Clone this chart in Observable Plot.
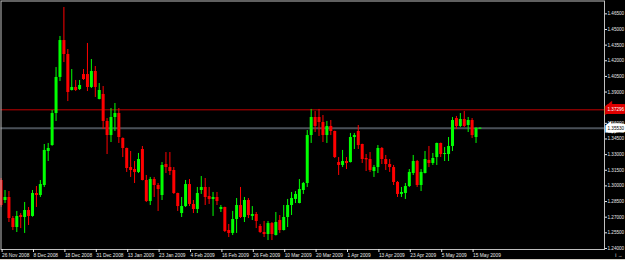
<!DOCTYPE html>
<html><head><meta charset="utf-8">
<script src="https://cdn.jsdelivr.net/npm/d3@7"></script>
<script src="https://cdn.jsdelivr.net/npm/@observablehq/plot@0.6"></script>
<style>
html,body{margin:0;padding:0;background:#000;overflow:hidden;}
#chart{width:625px;height:259px;border-bottom:1px solid #d4d0c8;}
svg{display:block;}
</style></head><body><div id="chart"></div>
<script>
const opens=[1.3052,1.2860,1.2889,1.2687,1.2601,1.2716,1.2697,1.2764,1.2707,1.2927,
 1.2908,1.3004,1.3330,1.3387,1.3694,1.4040,1.4394,1.4260,1.3915,1.3944,
 1.3924,1.4068,1.4068,1.3944,1.4097,1.3829,1.3877,1.3618,1.3483,1.3656,
 1.3694,1.3455,1.3359,1.3176,1.3157,1.3129,1.3349,1.3052,1.2850,1.3061,
 1.3004,1.2908,1.3205,1.3176,1.3148,1.2927,1.2735,1.2802,1.3013,1.2822,
 1.2774,1.2956,1.2985,1.2898,1.2870,1.2889,1.2774,1.2793,1.2572,1.2544,
 1.2678,1.2812,1.2697,1.2860,1.2707,1.2726,1.2611,1.2553,1.2534,1.2639,
 1.2524,1.2668,1.2572,1.2697,1.2812,1.2870,1.2831,1.2956,1.3023,1.3483,
 1.3656,1.3656,1.3608,1.3483,1.3570,1.3522,1.3224,1.3196,1.3234,1.3224,
 1.3464,1.3522,1.3397,1.3263,1.3253,1.3138,1.3176,1.3359,1.3253,1.3205,
 1.3176,1.3033,1.2918,1.2927,1.2994,1.3119,1.3234,1.3004,1.3119,1.3244,
 1.3215,1.3272,1.3407,1.3301,1.3301,1.3378,1.3646,1.3570,1.3637,1.3579,
 1.3627,1.3464,1.3544];
const highs=[1.3071,1.2956,1.2946,1.2707,1.2755,1.2735,1.2841,1.2793,1.2956,1.2994,
 1.3052,1.3397,1.3407,1.3723,1.4135,1.4433,1.4711,1.4308,1.4116,1.4011,
 1.4011,1.4116,1.4366,1.4212,1.4145,1.3982,1.3953,1.3646,1.3742,1.3790,
 1.3742,1.3460,1.3362,1.3330,1.3234,1.3311,1.3378,1.3100,1.3081,1.3081,
 1.3023,1.3224,1.3320,1.3320,1.3176,1.2930,1.2889,1.3052,1.3061,1.2860,
 1.2985,1.3090,1.3071,1.2985,1.2937,1.2937,1.2812,1.2796,1.2630,1.2755,
 1.2879,1.2985,1.2889,1.2879,1.2802,1.2745,1.2630,1.2659,1.2659,1.2649,
 1.2745,1.2716,1.2812,1.2870,1.2937,1.2946,1.3061,1.3033,1.3531,1.3733,
 1.3714,1.3733,1.3675,1.3618,1.3627,1.3525,1.3272,1.3340,1.3272,1.3503,
 1.3503,1.3579,1.3400,1.3301,1.3320,1.3196,1.3387,1.3368,1.3292,1.3253,
 1.3196,1.3042,1.2985,1.3023,1.3157,1.3292,1.3244,1.3157,1.3330,1.3378,
 1.3311,1.3410,1.3410,1.3368,1.3464,1.3656,1.3666,1.3694,1.3714,1.3656,
 1.3646,1.3560,1.3556];
const lows=[1.2793,1.2831,1.2649,1.2572,1.2553,1.2591,1.2544,1.2620,1.2700,1.2793,
 1.2889,1.2985,1.3234,1.3380,1.3618,1.4001,1.4183,1.3809,1.3910,1.3905,
 1.3915,1.4011,1.3905,1.3934,1.3848,1.3825,1.3541,1.3301,1.3416,1.3522,
 1.3407,1.3272,1.3129,1.3081,1.3023,1.3119,1.3048,1.2841,1.2812,1.2889,
 1.2755,1.2860,1.3119,1.3100,1.2918,1.2755,1.2697,1.2793,1.2802,1.2735,
 1.2735,1.2918,1.2812,1.2822,1.2707,1.2812,1.2745,1.2553,1.2505,1.2524,
 1.2544,1.2687,1.2649,1.2687,1.2668,1.2591,1.2544,1.2505,1.2476,1.2476,
 1.2520,1.2544,1.2568,1.2601,1.2716,1.2831,1.2828,1.2918,1.2985,1.3407,
 1.3512,1.3474,1.3416,1.3407,1.3483,1.3263,1.3100,1.3176,1.3157,1.3220,
 1.3349,1.3349,1.3215,1.3138,1.3129,1.3081,1.3119,1.3205,1.3148,1.3129,
 1.3004,1.2889,1.2889,1.2870,1.2985,1.3100,1.2985,1.2946,1.3115,1.3176,
 1.3196,1.3196,1.3272,1.3234,1.3234,1.3330,1.3541,1.3560,1.3560,1.3512,
 1.3455,1.3407,1.3542];
const closes=[1.2812,1.2889,1.2687,1.2601,1.2707,1.2697,1.2764,1.2707,1.2927,1.2908,
 1.3013,1.3340,1.3359,1.3694,1.4040,1.4394,1.4260,1.3896,1.3944,1.3915,
 1.3963,1.4020,1.3944,1.4097,1.3944,1.3915,1.3618,1.3483,1.3656,1.3694,
 1.3464,1.3359,1.3167,1.3148,1.3129,1.3253,1.3052,1.2850,1.3061,1.3004,
 1.2965,1.3196,1.3176,1.3138,1.2927,1.2802,1.2802,1.3013,1.2822,1.2774,
 1.2927,1.2985,1.2889,1.2870,1.2889,1.2850,1.2793,1.2563,1.2544,1.2678,
 1.2812,1.2697,1.2860,1.2716,1.2726,1.2659,1.2553,1.2534,1.2639,1.2534,
 1.2649,1.2572,1.2697,1.2812,1.2879,1.2918,1.2965,1.3023,1.3483,1.3656,
 1.3570,1.3608,1.3483,1.3570,1.3522,1.3272,1.3196,1.3234,1.3215,1.3464,
 1.3483,1.3387,1.3253,1.3250,1.3148,1.3176,1.3359,1.3253,1.3205,1.3176,
 1.3033,1.2918,1.2937,1.2994,1.3129,1.3234,1.3004,1.3129,1.3253,1.3215,
 1.3263,1.3407,1.3301,1.3311,1.3378,1.3627,1.3570,1.3637,1.3570,1.3627,
 1.3483,1.3550,1.3553];

const xTicks=[0,8,16,24,32,40,48,56,64,72,80,88,96,104,112,120];
const xLabels=["26 Nov 2008","8 Dec 2008","18 Dec 2008","31 Dec 2008","13 Jan 2009","23 Jan 2009",
 "4 Feb 2009","16 Feb 2009","26 Feb 2009","10 Mar 2009","20 Mar 2009","1 Apr 2009",
 "13 Apr 2009","23 Apr 2009","5 May 2009","15 May 2009"];
// 1.375 sits under the red level label in the reference, so it is not shown
const yTicks=[1.24,1.255,1.27,1.285,1.30,1.315,1.33,1.345,1.36,1.39,1.405,1.42,1.435,1.45,1.465];
const levelLine=1.37296;
const bidPrice=1.35530;

const bars=opens.map((o,i)=>({i,open:o,high:highs[i],low:lows[i],close:closes[i]}));
const col=d=>d.close>=d.open?"#00ff00":"#ff0000";

const chart=Plot.plot({
  width:625,height:259,marginLeft:0.5,marginRight:21,marginTop:0.5,marginBottom:10,
  style:{background:"#000",color:"#e8e8e8",fontFamily:"'Liberation Sans', Arial, sans-serif",overflow:"hidden"},
  x:{type:"linear",domain:[-0.025,153.73],axis:null},
  y:{domain:[1.23901,1.47732],axis:null},
  marks:[
    Plot.ruleY([levelLine],{stroke:"#c00000",strokeWidth:1}),
    Plot.ruleY([bidPrice],{stroke:"#4a5058",strokeWidth:2}),
    Plot.ruleX(bars,{x:"i",y1:"low",y2:"high",stroke:col,strokeWidth:1}),
    Plot.ruleX(bars,{x:"i",y1:"open",y2:"close",stroke:col,strokeWidth:3}),
    Plot.frame({stroke:"#c0c0c0"}),
    Plot.axisY(yTicks,{anchor:"right",tickSize:2,tickPadding:1,tickFormat:d=>d.toFixed(5),fontSize:4.6}),
    Plot.axisX(xTicks,{anchor:"bottom",tickSize:3,tickPadding:1,textAnchor:"start",dx:1,fontSize:4.8,
      tickFormat:d=>xLabels[xTicks.indexOf(d)]}),
    Plot.text([levelLine],{frameAnchor:"right",y:d=>d,dx:3,textAnchor:"start",text:d=>d.toFixed(5),
      fill:"#ffffff",stroke:"#e00000",strokeWidth:6,strokeLinejoin:"miter",fontSize:4.6}),
    Plot.text([bidPrice],{frameAnchor:"right",y:d=>d,dx:3,textAnchor:"start",text:d=>d.toFixed(5),
      fill:"#000000",stroke:"#ffffff",strokeWidth:5,strokeLinejoin:"miter",fontSize:4.6})
  ]
});
document.getElementById("chart").appendChild(chart);
</script></body></html>
